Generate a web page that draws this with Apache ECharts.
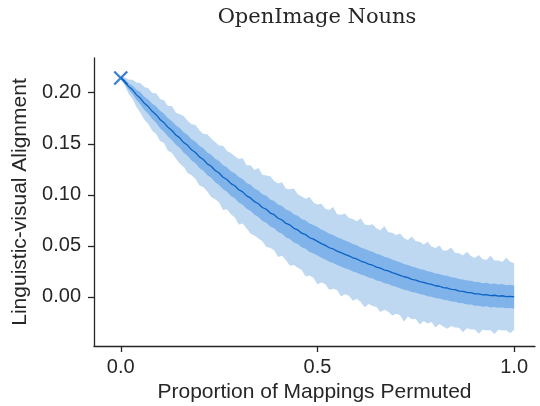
<!DOCTYPE html>
<html>
<head>
<meta charset="utf-8">
<script src="https://cdn.jsdelivr.net/npm/echarts@6/dist/echarts.min.js"></script>
<style>
  html, body { margin: 0; padding: 0; background: #fff; }
  #chart { width: 540px; height: 406px; }
</style>
</head>
<body>
<div id="chart"></div>
<script>
// proportion of mappings permuted, sampled every 0.01
var permuted = Array.from({ length: 101 }, function (_, i) { return i / 100; });

// mean alignment
var meanAlign = [
  0.2150, 0.2112, 0.2060, 0.2028, 0.1979, 0.1945, 0.1896, 0.1864, 0.1818, 0.1785,
  0.1738, 0.1707, 0.1661, 0.1630, 0.1586, 0.1558, 0.1512, 0.1485, 0.1441, 0.1415,
  0.1372, 0.1346, 0.1303, 0.1280, 0.1238, 0.1214, 0.1172, 0.1150, 0.1110, 0.1089,
  0.1050, 0.1029, 0.0990, 0.0970, 0.0933, 0.0913, 0.0876, 0.0859, 0.0822, 0.0806,
  0.0771, 0.0754, 0.0720, 0.0705, 0.0672, 0.0657, 0.0625, 0.0611, 0.0580, 0.0566,
  0.0545, 0.0522, 0.0505, 0.0482, 0.0470, 0.0449, 0.0434, 0.0417, 0.0403, 0.0384,
  0.0372, 0.0352, 0.0340, 0.0322, 0.0311, 0.0293, 0.0283, 0.0264, 0.0255, 0.0238,
  0.0226, 0.0212, 0.0198, 0.0189, 0.0173, 0.0165, 0.0151, 0.0144, 0.0130, 0.0124,
  0.0110, 0.0105, 0.0092, 0.0088, 0.0075, 0.0071, 0.0058, 0.0055, 0.0044, 0.0042,
  0.0031, 0.0030, 0.0020, 0.0024, 0.0013, 0.0017, 0.0008, 0.0012, 0.0003, 0.0006, 0.0000
];

// half width of the inner (dark) band
var innerSpread = [
  0.000, 0.002, 0.003, 0.004, 0.005, 0.006, 0.0065, 0.007, 0.0075, 0.008,
  0.0085, 0.0088, 0.009, 0.0092, 0.0095, 0.0097, 0.010, 0.0102, 0.0104, 0.0106,
  0.0108, 0.011, 0.0112, 0.0113, 0.0115, 0.0117, 0.0118, 0.012, 0.0121, 0.0123,
  0.0124, 0.0126, 0.0127, 0.0128, 0.0129, 0.013, 0.0131, 0.0132, 0.0133, 0.0134,
  0.0135, 0.0136, 0.0137, 0.0137, 0.0138, 0.0138, 0.0139, 0.0139, 0.014, 0.014,
  0.014, 0.0139, 0.0139, 0.0138, 0.0138, 0.0137, 0.0137, 0.0136, 0.0135, 0.0135,
  0.0134, 0.0133, 0.0133, 0.0132, 0.0131, 0.0131, 0.013, 0.0129, 0.0129, 0.0128,
  0.0127, 0.0127, 0.0126, 0.0125, 0.0125, 0.0124, 0.0123, 0.0123, 0.0122, 0.0121,
  0.0121, 0.012, 0.012, 0.0119, 0.0119, 0.0118, 0.0118, 0.0117, 0.0117, 0.0116,
  0.0116, 0.0116, 0.0115, 0.0115, 0.0115, 0.0114, 0.0114, 0.0114, 0.0113, 0.0113, 0.0113
];

// outer (light) band: distance above / below the mean
var outerUp = [
  0.000, 0.004, 0.007, 0.010, 0.012, 0.015, 0.016, 0.018, 0.018, 0.021,
  0.020, 0.022, 0.021, 0.024, 0.022, 0.023, 0.026, 0.024, 0.025, 0.027,
  0.026, 0.025, 0.029, 0.027, 0.028, 0.027, 0.031, 0.028, 0.030, 0.029,
  0.030, 0.033, 0.030, 0.032, 0.031, 0.035, 0.032, 0.033, 0.036, 0.033,
  0.034, 0.037, 0.034, 0.035, 0.039, 0.035, 0.036, 0.035, 0.040, 0.036,
  0.036, 0.039, 0.036, 0.037, 0.041, 0.036, 0.037, 0.040, 0.037, 0.038,
  0.037, 0.042, 0.037, 0.038, 0.040, 0.038, 0.037, 0.043, 0.038, 0.039,
  0.038, 0.041, 0.038, 0.037, 0.042, 0.038, 0.039, 0.037, 0.041, 0.037,
  0.037, 0.040, 0.036, 0.037, 0.041, 0.036, 0.037, 0.035, 0.040, 0.036,
  0.035, 0.038, 0.035, 0.034, 0.039, 0.034, 0.035, 0.033, 0.038, 0.034, 0.033
];
var outerDown = [
  0.000, 0.004, 0.007, 0.009, 0.012, 0.014, 0.016, 0.017, 0.019, 0.019,
  0.021, 0.020, 0.023, 0.022, 0.023, 0.025, 0.024, 0.027, 0.025, 0.026,
  0.028, 0.027, 0.027, 0.030, 0.028, 0.029, 0.032, 0.029, 0.030, 0.031,
  0.034, 0.031, 0.032, 0.035, 0.033, 0.034, 0.033, 0.037, 0.034, 0.035,
  0.038, 0.035, 0.036, 0.040, 0.036, 0.037, 0.036, 0.041, 0.037, 0.038,
  0.042, 0.038, 0.038, 0.041, 0.039, 0.038, 0.043, 0.039, 0.039, 0.042,
  0.039, 0.040, 0.044, 0.039, 0.040, 0.039, 0.043, 0.039, 0.040, 0.042,
  0.039, 0.039, 0.044, 0.038, 0.039, 0.038, 0.042, 0.038, 0.039, 0.037,
  0.041, 0.037, 0.038, 0.040, 0.036, 0.037, 0.036, 0.040, 0.035, 0.036,
  0.035, 0.039, 0.034, 0.035, 0.034, 0.038, 0.033, 0.034, 0.033, 0.036, 0.032
];

// unpermuted score marker
var startPoint = [0, 0.2144];

var yTicks = [0, 0.05, 0.1, 0.15, 0.2];
var xTicks = [0, 0.5, 1];

var axisColor = '#262626';

function bandPoints(lo, hi) {
  var top = permuted.map(function (x, i) { return [x, hi[i]]; });
  var bottom = permuted.map(function (x, i) { return [x, lo[i]]; }).reverse();
  return top.concat(bottom);
}

function band(lo, hi, color, z) {
  var pts = bandPoints(lo, hi);
  return {
    type: 'custom',
    silent: true,
    z: z,
    data: [[0, 0]],
    renderItem: function (params, api) {
      return {
        type: 'polygon',
        shape: { points: pts.map(function (p) { return api.coord(p); }) },
        style: { fill: color }
      };
    }
  };
}

var outerLo = meanAlign.map(function (m, i) { return m - outerDown[i]; });
var outerHi = meanAlign.map(function (m, i) { return m + outerUp[i]; });
var innerLo = meanAlign.map(function (m, i) { return m - innerSpread[i]; });
var innerHi = meanAlign.map(function (m, i) { return m + innerSpread[i]; });

var chart = echarts.init(document.getElementById('chart'), null, { renderer: 'canvas' });

var option = {
  animation: false,
  title: {
    text: 'OpenImage Nouns',
    left: 312,
    top: 2,
    textAlign: 'center',
    textStyle: { fontFamily: 'DejaVu Serif', fontSize: 21, fontWeight: 'normal', color: '#262626' }
  },
  grid: { left: 94, right: 5, top: 58, bottom: 60, containLabel: false, outerBoundsMode: 'none' },
  xAxis: {
    type: 'value',
    min: -0.068,
    max: 1.053,
    name: 'Proportion of Mappings Permuted',
    nameLocation: 'middle',
    nameGap: 36,
    nameTextStyle: { fontFamily: 'Liberation Sans', fontSize: 21, color: axisColor },
    splitLine: { show: false },
    axisLine: { onZero: false, lineStyle: { color: axisColor, width: 1.3 } },
    axisTick: { show: true, length: 6, customValues: xTicks, lineStyle: { color: axisColor, width: 1.3 } },
    axisLabel: {
      customValues: xTicks,
      margin: 11,
      fontFamily: 'Liberation Sans',
      fontSize: 20,
      color: axisColor,
      formatter: function (v) { return v.toFixed(1); }
    }
  },
  yAxis: {
    type: 'value',
    min: -0.048,
    max: 0.234,
    name: 'Linguistic-visual Alignment',
    nameLocation: 'middle',
    nameGap: 48,
    nameRotate: 90,
    nameTextStyle: { fontFamily: 'Liberation Sans', fontSize: 21, color: axisColor },
    splitLine: { show: false },
    axisLine: { show: true, onZero: false, lineStyle: { color: axisColor, width: 1.3 } },
    axisTick: { show: true, length: 6, customValues: yTicks, lineStyle: { color: axisColor, width: 1.3 } },
    axisLabel: {
      customValues: yTicks,
      margin: 13,
      fontFamily: 'Liberation Sans',
      fontSize: 20,
      color: axisColor,
      formatter: function (v) { return v.toFixed(2); }
    }
  },
  series: [
    band(outerLo, outerHi, '#bed8f2', 1),
    band(innerLo, innerHi, '#80b3e9', 2),
    {
      type: 'line',
      z: 3,
      showSymbol: false,
      silent: true,
      data: permuted.map(function (x, i) { return [x, meanAlign[i]]; }),
      lineStyle: { color: '#0b63c5', width: 1.3 }
    },
    {
      type: 'scatter',
      z: 4,
      silent: true,
      symbol: 'path://M0,0L10,10M10,0L0,10',
      symbolSize: 13,
      data: [startPoint],
      itemStyle: { color: 'rgba(0,0,0,0)', borderColor: '#0b63c5', borderWidth: 2.4 }
    }
  ]
};

chart.setOption(option);
</script>
</body>
</html>
